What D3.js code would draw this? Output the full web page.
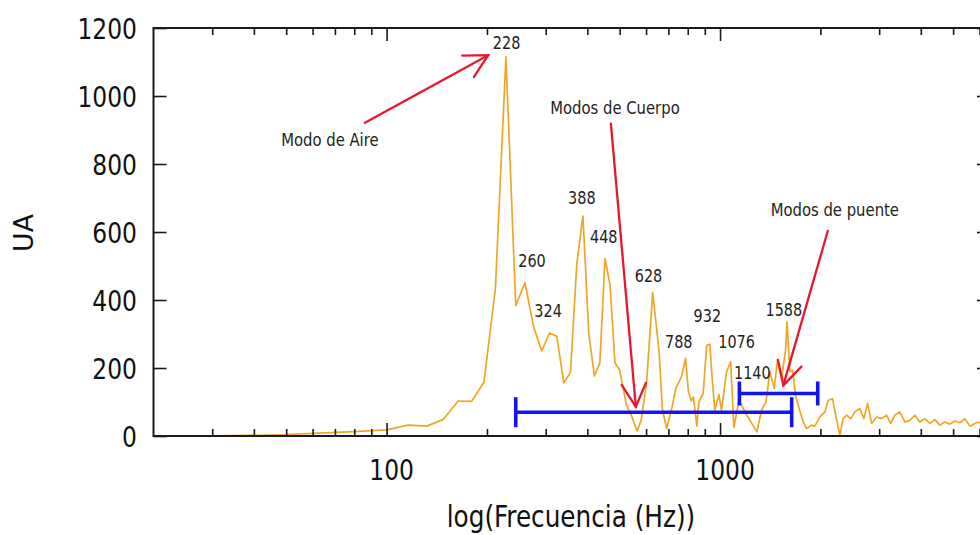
<!DOCTYPE html>
<html><head><meta charset="utf-8">
<script src="https://cdn.jsdelivr.net/npm/d3@7/dist/d3.min.js"></script>
<style>
html,body{margin:0;padding:0;background:#fff;}
text{font-family:"DejaVu Sans Condensed","DejaVu Sans",sans-serif;font-stretch:condensed;}
</style></head>
<body><svg id="c" width="980" height="535"></svg>
<script>
// ---- data ----
const freq = [26,34,50,60,80,100,116,132,148,164,180,196,212,228,244,260,276,292,308,324,340,356,372,388,404,420,436,452,468,484,500,524,542,564,580,602,628,656,672,692,716,737,766,788,804,820,832,852,864,890,912,932,948,964,992,1010,1046,1076,1100,1140,1200,1290,1332,1373,1411,1453,1487,1529,1572,1588,1620,1650,1688,1727,1776,1818,1881,1925,1993,2063,2110,2175,2225,2288,2340,2396,2468,2537,2626,2700,2770,2848,2948,3051,3158,3246,3344,3461,3583,3708,3838,3973,4113,4258,4408,4563,4723,4889,5061,5239,5423,5614,5811,5943,6150,6400];
const amp  = [0,1,4,8,13,18,32,29,49,103,102,159,434,1115,383,451,321,250,303,293,156,187,507,647,301,177,215,522,443,215,194,91,61,15,46,154,422,252,76,22,80,140,174,228,130,103,115,29,100,125,267,270,164,76,122,76,189,218,25,105,63,12,76,100,189,140,223,169,252,336,189,194,115,81,41,22,32,29,56,71,105,110,58,2,51,61,51,71,81,51,96,37,56,51,61,37,61,71,41,46,61,41,51,37,48,32,41,35,44,39,51,29,37,41,33,38];

const xMajorTicks = [100, 1000];
const xMinorTicks = [30,40,50,60,70,80,90,200,300,400,500,600,700,800,900,2000,3000,4000,5000,6000];
const yTicks = [0,200,400,600,800,1000,1200];

// peak labels: text, frequency and amplitude of label anchor (centre, baseline)
const peakText = ["228","260","324","388","448","628","788","932","1076","1140","1588"];
const peakF    = [229, 273, 305, 385, 448, 610, 752, 916, 1121, 1250, 1553];
const peakV    = [1138, 496, 350, 682, 567, 453, 260, 336, 259, 167, 352];

// mode group annotations
const modeText = ["Modo de Aire","Modos de Cuerpo","Modos de puente"];
const modeF    = [67.6, 484, 2209];
const modeV    = [853, 946, 646];
// arrows (start -> tip) in data coordinates
const arrowF0 = [86.1, 470.6, 2104];
const arrowV0 = [921, 919, 603];
const arrowF1 = [201.7, 559, 1548];
const arrowV1 = [1120, 86, 149];

// horizontal range bars
const barF0 = [244, 1143];
const barF1 = [1640, 1963];
const barV  = [70, 125];
const barCap = [15, 12];

// ---- drawing ----
const svg = d3.select("#c");
const L = 153.5, R = 990, T = 28, B = 436;
const x = d3.scaleLog().domain([20, 6450]).range([L, R]);
const y = d3.scaleLinear().domain([0, 1200]).range([B, T]);
const SY = 1.1;
const axisColor = "#1a1a1a";

// series
const pts = freq.map((f,i)=>[f, amp[i]]);
svg.append("path")
  .attr("d", d3.line().x(d=>x(d[0])).y(d=>y(d[1]))(pts))
  .attr("fill","none").attr("stroke","#f0a526").attr("stroke-width",1.7)
  .attr("stroke-linejoin","round");

// axes
function styleAxis(g){
  g.select(".domain").remove();
  g.selectAll(".tick line").attr("stroke", axisColor).attr("stroke-width",1.6);
}
const gb = svg.append("g").attr("transform",`translate(0,${B})`)
  .call(d3.axisBottom(x).tickValues(xMajorTicks).tickSize(-13).tickFormat(d3.format("d")));
styleAxis(gb);
gb.selectAll(".tick text").attr("fill","#111").attr("font-size",26)
  .attr("dy",null).attr("y",44/SY).attr("dx",4.5).attr("transform",`scale(1,${SY})`);
const gbm = svg.append("g").attr("transform",`translate(0,${B})`)
  .call(d3.axisBottom(x).tickValues(xMinorTicks).tickSize(-7).tickFormat(""));
styleAxis(gbm);
const gt = svg.append("g").attr("transform",`translate(0,${T})`)
  .call(d3.axisTop(x).tickValues(xMajorTicks).tickSize(-13).tickFormat(""));
styleAxis(gt);
const gtm = svg.append("g").attr("transform",`translate(0,${T})`)
  .call(d3.axisTop(x).tickValues(xMinorTicks).tickSize(-7).tickFormat(""));
styleAxis(gtm);
const gl = svg.append("g").attr("transform",`translate(${L},0)`)
  .call(d3.axisLeft(y).tickValues(yTicks).tickSize(-13).tickPadding(16.5).tickFormat(d3.format("d")));
styleAxis(gl);
gl.selectAll(".tick text").attr("fill","#111").attr("font-size",26)
  .attr("dy","0.36em").attr("transform",`scale(1,${SY})`);
const gr = svg.append("g").attr("transform",`translate(${R},0)`)
  .call(d3.axisRight(y).tickValues(yTicks).tickSize(-13).tickFormat(""));
styleAxis(gr);

// border
svg.append("rect").attr("x",L).attr("y",T).attr("width",R-L).attr("height",B-T)
  .attr("fill","none").attr("stroke",axisColor).attr("stroke-width",2);

// axis titles
svg.append("text").attr("transform",`translate(571,527) scale(1,${SY})`)
  .attr("text-anchor","middle").attr("font-size",27.5).attr("fill","#111")
  .text("log(Frecuencia (Hz))");
svg.append("text").attr("transform",`translate(33,233) rotate(-90) scale(${SY},1)`)
  .attr("text-anchor","middle").attr("font-size",27).attr("fill","#111").text("UA");

// range bars
const blue = "#1414f2";
barV.forEach((v,i)=>{
  const g = svg.append("g").attr("stroke",blue).attr("stroke-width",3.6);
  const yy = y(v), x0 = x(barF0[i]), x1 = x(barF1[i]), c = barCap[i];
  g.append("line").attr("x1",x0).attr("x2",x1).attr("y1",yy).attr("y2",yy);
  g.append("line").attr("x1",x0).attr("x2",x0).attr("y1",yy-c).attr("y2",yy+c);
  g.append("line").attr("x1",x1).attr("x2",x1).attr("y1",yy-c).attr("y2",yy+c);
});

// arrows
const red = "#e8172f";
arrowF0.forEach((f,i)=>{
  const sx=x(f), sy=y(arrowV0[i]), tx=x(arrowF1[i]), ty=y(arrowV1[i]);
  const ang = Math.atan2(sy-ty, sx-tx), hl = 26, ha = 28*Math.PI/180;
  const g = svg.append("g").attr("stroke",red).attr("stroke-width",2.3).attr("fill","none")
    .attr("stroke-linecap","round");
  g.append("line").attr("x1",sx).attr("y1",sy).attr("x2",tx).attr("y2",ty);
  g.append("path").attr("d",
    `M${tx+hl*Math.cos(ang+ha)},${ty+hl*Math.sin(ang+ha)}L${tx},${ty}L${tx+hl*Math.cos(ang-ha)},${ty+hl*Math.sin(ang-ha)}`);
});

// labels
function label(t, f, v, size){
  svg.append("text").attr("transform",`translate(${x(f)},${y(v)}) scale(1,${SY})`)
    .attr("text-anchor","middle").attr("font-size",size).attr("fill","#222").text(t);
}
peakText.forEach((t,i)=>label(t, peakF[i], peakV[i], 16));
modeText.forEach((t,i)=>label(t, modeF[i], modeV[i], 16.5));
</script></body></html>
